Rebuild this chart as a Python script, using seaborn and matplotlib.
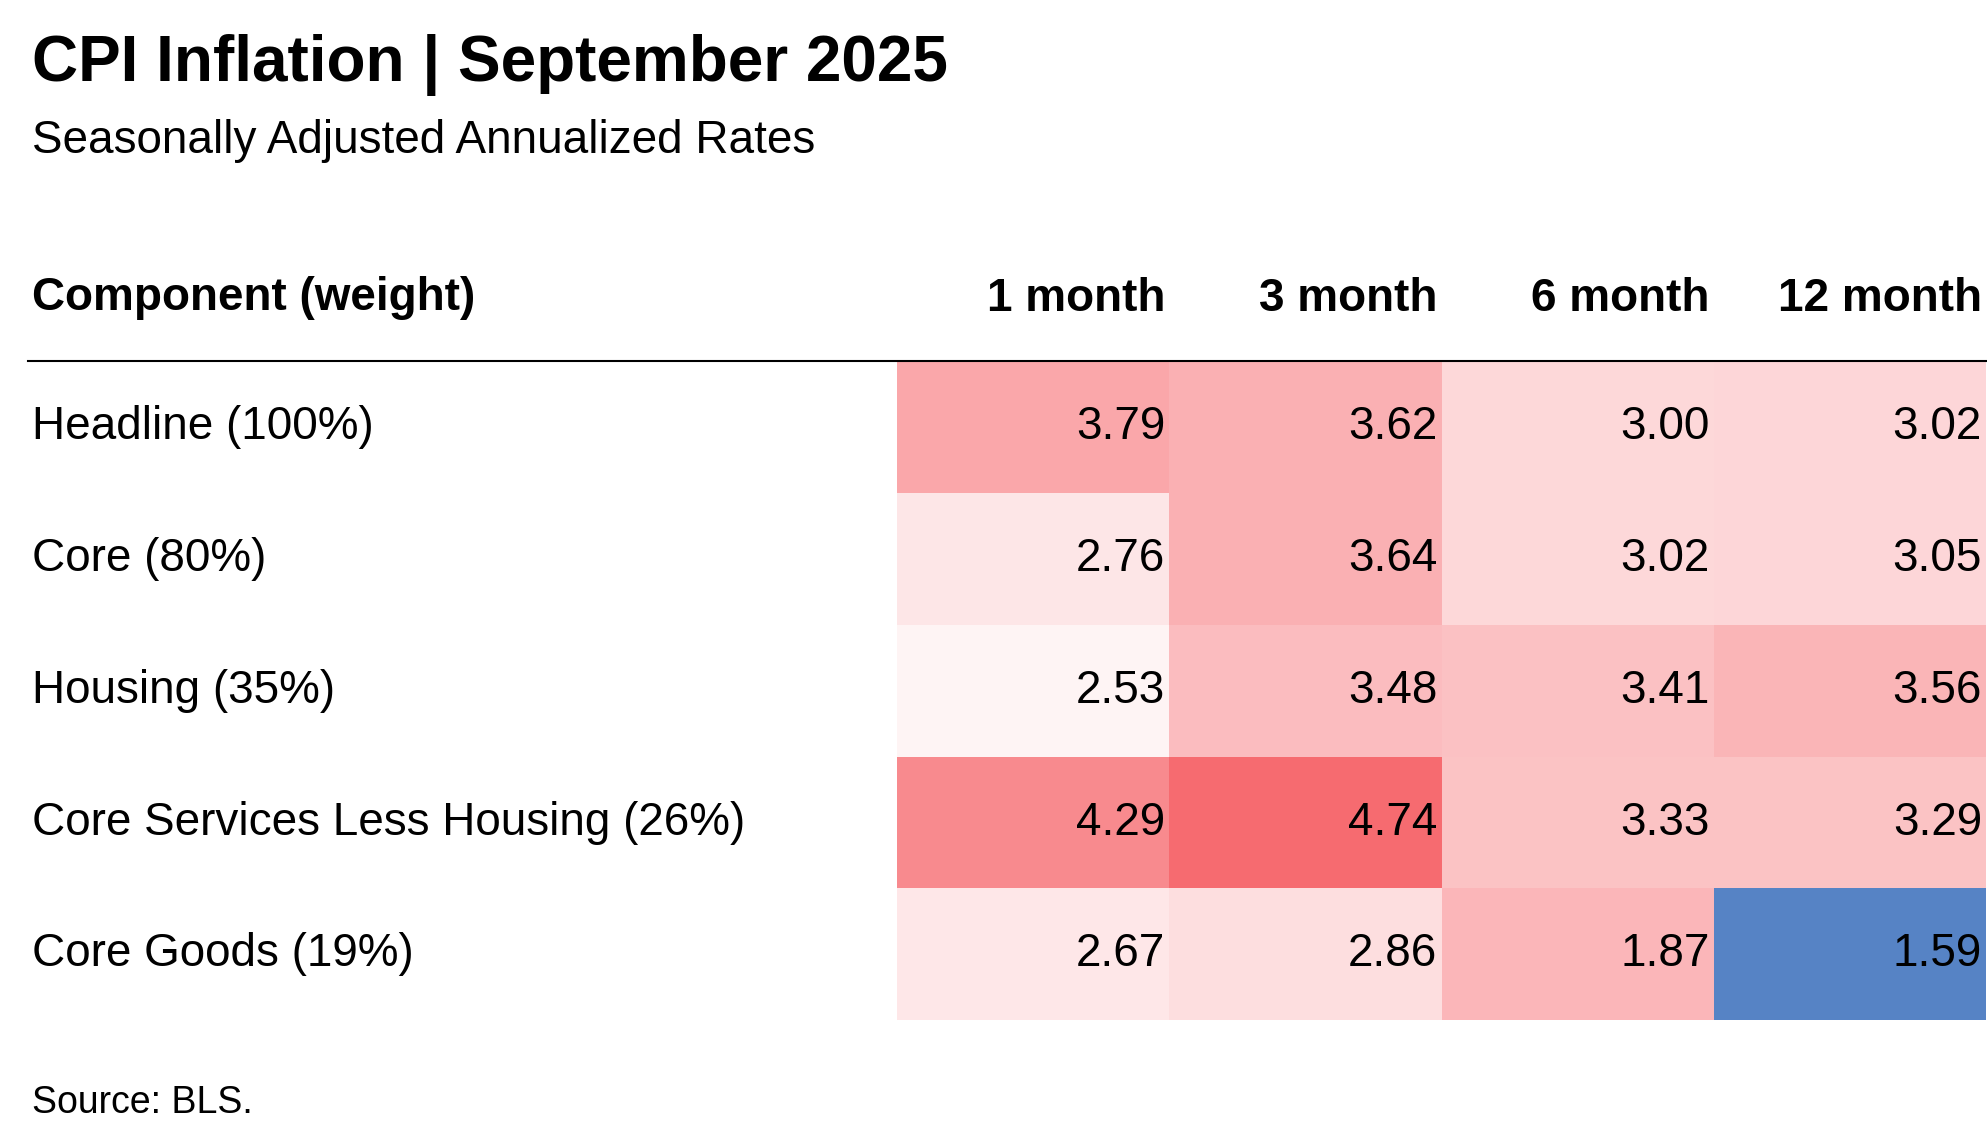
import numpy as np
import pandas as pd
import seaborn as sns
import matplotlib.pyplot as plt
from matplotlib.colors import LinearSegmentedColormap

components = ["Headline (100%)", "Core (80%)", "Housing (35%)",
              "Core Services Less Housing (26%)", "Core Goods (19%)"]
periods = ["1 month", "3 month", "6 month", "12 month"]
rates = [[3.79, 3.62, 3.00, 3.02],
         [2.76, 3.64, 3.02, 3.05],
         [2.53, 3.48, 3.41, 3.56],
         [4.29, 4.74, 3.33, 3.29],
         [2.67, 2.86, 1.87, 1.59]]
# colour intensity (red = hotter, blue = cooler)
shade = [[0.45, 0.40, 0.20, 0.21],
         [0.13, 0.40, 0.20, 0.21],
         [0.06, 0.34, 0.32, 0.38],
         [0.60, 0.75, 0.31, 0.31],
         [0.12, 0.17, 0.37, -0.88]]

rates_df = pd.DataFrame(rates, index=components, columns=periods)
shade_df = pd.DataFrame(shade, index=components, columns=periods)

plt.rcParams['font.family'] = ['Liberation Sans', 'DejaVu Sans']
cmap = LinearSegmentedColormap.from_list("cpi", ["#3f73bd", "#ffffff", "#f33c42"])

fig = plt.figure(figsize=(19.87, 11.47), dpi=100)
ax = fig.add_axes([0.4515, 0.1105, 0.548, 0.5745])
sns.heatmap(shade_df, cmap=cmap, vmin=-1, vmax=1, cbar=False, ax=ax,
            xticklabels=False, yticklabels=False)
ax.set_xlabel("")
ax.set_ylabel("")
left = 0.016
for i, comp in enumerate(components):
    for j, per in enumerate(periods):
        ax.text(j + 0.985, i + 0.5, f"{rates_df.loc[comp, per]:.2f}",
                ha="right", va="center", fontsize=33)
    # row labels in figure coords
    fig.text(left, ax.transData.transform((0, i + 0.5))[1] / fig.bbox.height,
             comp, ha="left", va="center", fontsize=33)

for j, per in enumerate(periods):
    ax.text(j + 0.985, -0.47, per, ha="right", va="center", fontsize=33,
            fontweight="bold", clip_on=False)

fig.text(left, 0.74, "Component (weight)", ha="left", va="center",
         fontsize=33, fontweight="bold")
fig.add_artist(plt.Line2D([0.014, 1.0], [0.685, 0.685], color="black", lw=1.5))

fig.text(left, 0.943, "CPI Inflation | September 2025", ha="left", va="center",
         fontsize=46, fontweight="bold")
fig.text(left, 0.877, "Seasonally Adjusted Annualized Rates", ha="left",
         va="center", fontsize=33)
fig.text(left, 0.038, "Source: BLS.", ha="left", va="center", fontsize=27)

plt.savefig("out.png")
